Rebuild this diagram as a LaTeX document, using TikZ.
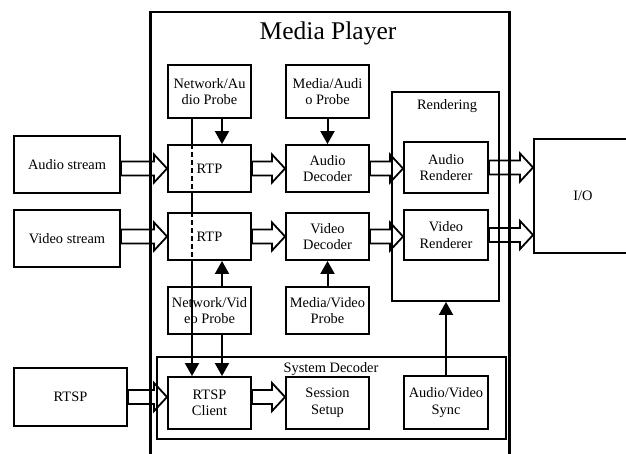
\documentclass[tikz,border=0pt]{standalone}
\usepackage{fontspec}
\setmainfont{Liberation Serif}
\usetikzlibrary{arrows.meta,calc,positioning}
\tikzset{box/.style={rectangle,draw,line width=1.9pt,align=center,inner sep=0pt,
minimum width=83pt,minimum height=47pt,font=\fontsize{14.4}{16.5}\selectfont},
group/.style={rectangle,draw,line width=1.9pt,inner sep=0pt},
frame/.style={rectangle,draw,line width=2.5pt,inner sep=0pt},
caption/.style={inner sep=0pt,font=\fontsize{14.4}{16.5}\selectfont},
link/.style={line width=2pt},
thin/.style={line width=1.4pt},
probe/.style={link,-{Triangle[length=13pt,width=14pt]}},
flow/.style={line width=1.8pt,line join=miter}}
\newcommand{\bigarrow}[2]{
\draw [flow] let \p1=(#1), \p2=(#2) in
  (\x1,\y1+7pt) -- (\x2-13pt,\y1+7pt) -- (\x2-13pt,\y1+14pt) -- (\x2,\y1)
  -- (\x2-13pt,\y1-14pt) -- (\x2-13pt,\y1-7pt) -- (\x1,\y1-7pt) -- cycle;
}
\begin{document}
\begin{tikzpicture}[x=1pt,y=-1pt]
  \useasboundingbox (0,0) rectangle (626,453);

  % media player frame and groups
  \node (player) [frame,anchor=north west,minimum width=359pt,minimum height=470pt] at (149,10.7) {};
  \node (title) [caption,font=\fontsize{25.5}{27}\selectfont] at (328,33) {Media Player};
  \node (rendering) [group,minimum width=107pt,minimum height=209pt] at (445.5,196.5) {};
  \node (rendcapt) [caption] at (447,106) {Rendering};
  \node (sysdec) [group,minimum width=349pt,minimum height=82pt] at (331.5,398) {};
  \node (syscapt) [caption] at (331,369) {System Decoder};

  % sources
  \node (astream) [box,minimum width=106pt,minimum height=57pt] at (67,164.5) {Audio stream};
  \node (vstream) [box,minimum width=106pt,minimum height=57pt] at (67,238.5) {Video stream};
  \node (rtsp) [box,minimum width=113pt,minimum height=58pt] at (70.5,397) {RTSP};

  % probes
  \node (naprobe) [box,minimum height=53pt] at (209.5,91.5) {Network/Au\\dio Probe};
  \node (maprobe) [box,minimum height=53pt] at (327.5,91.5) {Media/Audi\\o Probe};
  \node (nvprobe) [box] at (209.5,310.5) {Network/Vid\\eo Probe};
  \node (mvprobe) [box] at (327.5,310.5) {Media/Video\\Probe};

  % pipeline
  \node (artp) [box] at (209.5,168.5) {RTP};
  \node (vrtp) [box] at (209.5,236.5) {RTP};
  \node (adec) [box] at (327.5,168.5) {Audio\\Decoder};
  \node (vdec) [box] at (327.5,236.5) {Video\\Decoder};
  \node (arend) [box,minimum width=84pt,minimum height=51pt] at (446,167.5) {Audio\\Renderer};
  \node (vrend) [box,minimum width=84pt,minimum height=50pt] at (446,235) {Video\\Renderer};
  \node (io) [box,minimum width=98pt,minimum height=114pt] at (583,196) {I/O};

  % system decoder
  \node (rtspc) [box,minimum height=52pt] at (209.5,403) {RTSP\\Client};
  \node (session) [box,minimum height=52pt] at (327.5,403) {Session\\Setup};
  \node (avsync) [box,minimum width=84pt,minimum height=53pt] at (446,402.5) {Audio/Video\\Sync};

  % data flow
  \bigarrow{astream.east |- artp.west}{artp.west}
  \bigarrow{vstream.east |- vrtp.west}{vrtp.west}
  \bigarrow{rtsp.east}{rtspc.west}
  \bigarrow{artp.east}{adec.west}
  \bigarrow{vrtp.east}{vdec.west}
  \bigarrow{adec.east}{arend.west}
  \bigarrow{vdec.east}{vrend.west}
  \bigarrow{arend.east}{io.west}
  \bigarrow{vrend.east}{io.west}
  \bigarrow{[yshift=6pt]rtspc.east}{session.west}

  % probe links
  \draw [probe] ([xshift=12.5pt]naprobe.south) -- ([xshift=12.5pt]artp.north);
  \draw [probe] (maprobe) -- (adec);
  \draw [probe] ([xshift=12.5pt]nvprobe.north) -- ([xshift=12.5pt]vrtp.south);
  \draw [probe] (mvprobe) -- (vdec);
  \draw [probe] ([xshift=12.5pt]nvprobe.south) -- ([xshift=12.5pt]rtspc.north);
  \draw [probe] (avsync.north) -- (avsync.north |- rendering.south);

  \draw [thin] ([xshift=-17.5pt]naprobe.south) -- ([xshift=-17.5pt]artp.north);
  \draw [thin,dash pattern=on 5pt off 3pt] ([xshift=-17.5pt]artp.north) -- ([xshift=-17.5pt]artp.south);
  \draw [thin] ([xshift=-17.5pt]artp.south) -- ([xshift=-17.5pt]vrtp.north);
  \draw [thin,dash pattern=on 5pt off 3pt] ([xshift=-17.5pt]vrtp.north) -- ([xshift=-17.5pt]vrtp.south);
  \draw [thin] ([xshift=-17.5pt]vrtp.south) -- ([xshift=-17.5pt]nvprobe.south);
  \draw [probe] ([xshift=-17.5pt]nvprobe.south) -- ([xshift=-17.5pt]rtspc.north);
\end{tikzpicture}
\end{document}
